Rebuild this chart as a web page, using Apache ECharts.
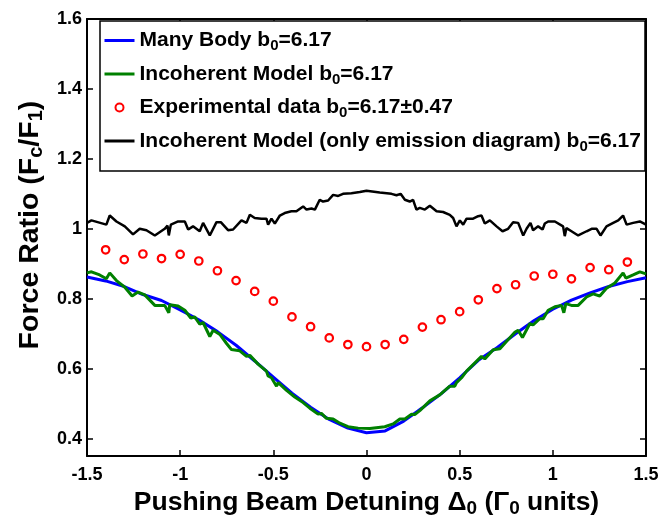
<!DOCTYPE html>
<html>
<head>
<meta charset="utf-8">
<script src="https://cdn.jsdelivr.net/npm/echarts@6/dist/echarts.min.js"></script>
<style>
html,body{margin:0;padding:0;background:#fff;}
#chart{width:662px;height:523px;}
</style>
</head>
<body>
<div id="chart"></div>
<script>
// ---- data ----
const xTicks = [-1.5, -1, -0.5, 0, 0.5, 1, 1.5];
const yTicks = [0.4, 0.6, 0.8, 1, 1.2, 1.4, 1.6];

const seriesNames = [
  'Many Body b0=6.17',
  'Incoherent Model b0=6.17',
  'Experimental data b0=6.17\u00b10.47',
  'Incoherent Model (only emission diagram) b0=6.17'
];

const manyBodyX = [-1.5,-1.4,-1.3,-1.2,-1.1,-1.0,-0.9,-0.8,-0.7,-0.6,-0.5,-0.4,-0.3,-0.2,-0.1,0.0,
                   0.1,0.2,0.3,0.4,0.5,0.6,0.7,0.8,0.9,1.0,1.1,1.2,1.3,1.4,1.5];
const manyBodyY = [0.862,0.851,0.835,0.812,0.795,0.768,0.740,0.706,0.667,0.622,0.576,0.530,0.490,0.455,0.430,0.417,
                   0.422,0.450,0.488,0.528,0.574,0.624,0.660,0.700,0.738,0.770,0.796,0.817,0.835,0.849,0.860];

const incoherentPts = [
 [-1.50,0.874],[-1.476,0.877],[-1.432,0.868],[-1.396,0.857],[-1.378,0.874],[-1.342,0.852],[-1.297,0.833],
 [-1.258,0.808],[-1.226,0.819],[-1.19,0.811],[-1.136,0.781],[-1.083,0.781],[-1.061,0.760],[-1.056,0.783],
 [-1.011,0.779],[-0.975,0.767],[-0.943,0.745],[-0.922,0.748],[-0.895,0.727],[-0.877,0.732],[-0.841,0.692],
 [-0.823,0.710],[-0.787,0.698],[-0.751,0.672],[-0.725,0.655],[-0.680,0.651],[-0.644,0.635],[-0.626,0.638],
 [-0.582,0.613],[-0.537,0.593],[-0.528,0.579],[-0.510,0.574],[-0.483,0.550],[-0.474,0.560],[-0.429,0.538],
 [-0.385,0.519],[-0.340,0.503],[-0.304,0.487],[-0.260,0.470],[-0.242,0.472],[-0.215,0.458],[-0.179,0.456],
 [-0.143,0.444],[-0.099,0.434],[-0.045,0.430],[0.018,0.429],[0.098,0.434],[0.143,0.442],[0.179,0.456],
 [0.206,0.456],[0.242,0.470],[0.259,0.469],[0.286,0.480],[0.340,0.508],[0.393,0.525],[0.447,0.550],
 [0.474,0.550],[0.483,0.560],[0.510,0.574],[0.537,0.593],[0.590,0.621],[0.617,0.635],[0.635,0.628],
 [0.680,0.654],[0.716,0.657],[0.751,0.678],[0.796,0.704],[0.814,0.710],[0.837,0.689],[0.877,0.729],
 [0.894,0.725],[0.930,0.743],[0.948,0.743],[0.975,0.767],[1.011,0.777],[1.047,0.781],[1.059,0.760],
 [1.070,0.786],[1.100,0.781],[1.136,0.781],[1.181,0.805],[1.216,0.814],[1.252,0.808],[1.288,0.830],
 [1.333,0.845],[1.377,0.874],[1.392,0.859],[1.431,0.868],[1.467,0.877],[1.50,0.871]
];

const expX = [-1.4,-1.3,-1.2,-1.1,-1.0,-0.9,-0.8,-0.7,-0.6,-0.5,-0.4,-0.3,-0.2,-0.1,0.0,
              0.1,0.2,0.3,0.4,0.5,0.6,0.7,0.8,0.9,1.0,1.1,1.2,1.3,1.4];
const expY = [0.940,0.912,0.928,0.915,0.927,0.908,0.880,0.852,0.821,0.793,0.748,0.720,0.688,0.669,0.663,
              0.669,0.684,0.719,0.740,0.763,0.797,0.829,0.840,0.865,0.870,0.857,0.889,0.883,0.905];

const emissionPts = [
 [-1.50,1.017],[-1.476,1.024],[-1.396,1.012],[-1.378,1.038],[-1.342,1.021],[-1.297,1.007],[-1.253,0.984],
 [-1.217,1.000],[-1.181,0.996],[-1.136,0.981],[-1.083,1.000],[-1.068,1.009],[-1.061,0.981],[-1.050,1.012],
 [-1.011,1.021],[-0.975,1.021],[-0.957,0.998],[-0.931,1.007],[-0.895,0.993],[-0.877,1.017],[-0.841,0.981],
 [-0.805,1.019],[-0.782,1.019],[-0.743,0.996],[-0.716,0.998],[-0.671,1.024],[-0.644,1.017],[-0.626,1.040],
 [-0.600,1.031],[-0.564,1.029],[-0.537,1.029],[-0.528,1.012],[-0.510,1.029],[-0.492,1.015],[-0.465,1.038],
 [-0.439,1.045],[-0.403,1.050],[-0.376,1.050],[-0.340,1.064],[-0.322,1.055],[-0.295,1.058],[-0.277,1.055],
 [-0.251,1.083],[-0.233,1.078],[-0.206,1.081],[-0.179,1.097],[-0.152,1.094],[-0.126,1.100],[-0.081,1.102],
 [-0.036,1.105],[0.0,1.109],[0.071,1.104],[0.134,1.100],[0.161,1.096],[0.183,1.100],[0.206,1.083],
 [0.232,1.078],[0.250,1.083],[0.268,1.055],[0.286,1.060],[0.313,1.055],[0.340,1.066],[0.376,1.050],
 [0.411,1.048],[0.447,1.040],[0.465,1.031],[0.483,1.007],[0.501,1.024],[0.519,1.012],[0.537,1.029],
 [0.572,1.029],[0.599,1.036],[0.617,1.038],[0.635,1.015],[0.662,1.024],[0.698,1.007],[0.730,0.993],
 [0.760,1.000],[0.787,1.019],[0.814,1.017],[0.841,0.981],[0.859,1.000],[0.880,1.017],[0.894,0.996],
 [0.921,1.007],[0.945,0.998],[0.957,1.015],[0.975,1.021],[1.011,1.021],[1.055,1.007],[1.064,0.979],
 [1.073,1.002],[1.100,0.993],[1.136,0.981],[1.181,0.993],[1.208,1.000],[1.235,1.000],[1.256,0.981],
 [1.288,1.007],[1.324,1.017],[1.351,1.024],[1.377,1.038],[1.396,1.012],[1.431,1.017],[1.467,1.021],[1.50,1.012]
];

// ---- chart ----
const FONT = '"Liberation Sans", Arial, Helvetica, sans-serif';
const chart = echarts.init(document.getElementById('chart'), null, {renderer: 'canvas'});

function subRich(size, subSize, lh) {
  return {
    a: {fontFamily: FONT, fontWeight: 'bold', fontSize: size, color: '#000', lineHeight: lh},
    s: {fontFamily: FONT, fontWeight: 'bold', fontSize: subSize, color: '#000', lineHeight: Math.round(subSize*1.1), verticalAlign: 'bottom'}
  };
}
function withSub(name) {
  return '{a|' + name.replace('b0', 'b}{s|0}{a|') + '}';
}

const axisCommon = {
  axisLine: {show: true, onZero: false, lineStyle: {color: '#000', width: 2}},
  splitLine: {show: false}
};
const tickStyle = {color: '#000', width: 1.5};

const option = {
  animation: false,
  backgroundColor: '#fff',
  grid: {left: 87, right: 16, top: 19, bottom: 64, containLabel: false},
  graphic: [{
    type: 'rect', z: 3,
    shape: {x: 100, y: 21, width: 545, height: 150},
    style: {fill: '#fff', stroke: '#000', lineWidth: 1.5}
  }],
  legend: {
    orient: 'vertical', left: 98, top: 25, z: 5,
    itemWidth: 30, itemHeight: 8, itemGap: 10,
    lineStyle: {width: 3},
    data: [
      {name: seriesNames[0], itemStyle: {opacity: 0}},
      {name: seriesNames[1], itemStyle: {opacity: 0}},
      {name: seriesNames[2]},
      {name: seriesNames[3], itemStyle: {opacity: 0}}
    ],
    formatter: withSub,
    textStyle: {rich: subRich(21, 15, 26)}
  },
  xAxis: [{
    type: 'value', min: -1.5, max: 1.5, interval: 0.5,
    ...axisCommon,
    axisTick: {show: true, inside: true, length: 6, lineStyle: tickStyle},
    axisLabel: {color: '#000', fontFamily: FONT, fontWeight: 'bold', fontSize: 18, margin: 10,
                formatter: v => String(v)},
    name: '{a|Pushing Beam Detuning \u0394}{s|0}{a| (\u0393}{s|0}{a| units)}',
    nameLocation: 'middle', nameGap: 29,
    nameTextStyle: {rich: subRich(26.5, 19, 31)}
  }, {
    type: 'value', position: 'top', min: -1.5, max: 1.5, interval: 0.5,
    ...axisCommon,
    axisTick: {show: true, inside: true, length: 6, lineStyle: tickStyle},
    axisLabel: {show: false}
  }],
  yAxis: [{
    type: 'value', min: 0.35, max: 1.6,
    ...axisCommon,
    axisTick: {show: true, inside: true, length: 6, customValues: yTicks, lineStyle: tickStyle},
    axisLabel: {color: '#000', fontFamily: FONT, fontWeight: 'bold', fontSize: 18, margin: 5,
                customValues: yTicks, formatter: v => String(+v.toFixed(1))},
    name: '{a|Force Ratio (F}{s|c}{a|/F}{s|1}{a|)}',
    nameLocation: 'middle', nameGap: 41, nameRotate: 90,
    nameTextStyle: {rich: subRich(28.5, 20, 32), padding: [0, 0, 0, 25]}
  }, {
    type: 'value', position: 'right', min: 0.35, max: 1.6,
    ...axisCommon,
    axisTick: {show: true, inside: true, length: 6, customValues: yTicks, lineStyle: tickStyle},
    axisLabel: {show: false}
  }],
  series: [
    {
      name: seriesNames[0], type: 'line',
      data: manyBodyX.map((x, i) => [x, manyBodyY[i]]),
      showSymbol: false, symbol: 'none', clip: true,
      lineStyle: {color: '#0000ff', width: 3}, itemStyle: {color: '#0000ff'}, z: 2
    },
    {
      name: seriesNames[1], type: 'line',
      data: incoherentPts,
      showSymbol: false, symbol: 'none', clip: true,
      lineStyle: {color: '#008000', width: 3}, itemStyle: {color: '#008000'}, z: 3
    },
    {
      name: seriesNames[2], type: 'scatter',
      data: expX.map((x, i) => [x, expY[i]]),
      symbol: 'circle', symbolSize: 7.5,
      itemStyle: {color: '#fff', borderColor: '#ff0000', borderWidth: 2.2, opacity: 1}, z: 4
    },
    {
      name: seriesNames[3], type: 'line',
      data: emissionPts,
      showSymbol: false, symbol: 'none', clip: true,
      lineStyle: {color: '#000', width: 2.5}, itemStyle: {color: '#000'}, z: 3
    }
  ]
};
chart.setOption(option);
</script>
</body>
</html>
